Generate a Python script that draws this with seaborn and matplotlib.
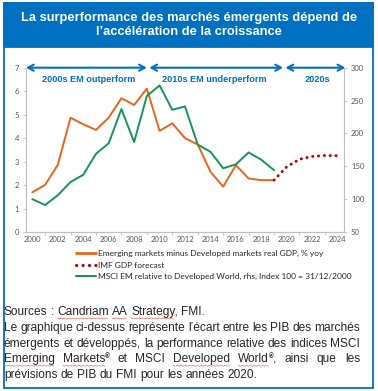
import matplotlib
matplotlib.use('Agg')
import matplotlib.pyplot as plt
import seaborn as sns
from matplotlib.patches import Rectangle
from matplotlib.lines import Line2D

# données
years = list(range(2000, 2020))
gdp_diff = [1.69, 2.01, 2.86, 4.87, 4.59, 4.35, 4.87, 5.70, 5.41, 6.11,
            4.31, 4.63, 4.00, 3.73, 2.57, 1.93, 2.85, 2.28, 2.21, 2.21]
msci_rel = [100, 91, 106, 126, 137, 169, 185, 237, 187, 257,
            273, 236, 241, 183, 172, 147, 153, 171, 160, 144]
fc_years = [2019, 2020, 2021, 2022, 2023, 2024]
fc_values = [2.21, 2.78, 3.10, 3.22, 3.26, 3.25]

periods = ['2000s EM outperform', '2010s EM underperform', '2020s']
period_spans = [(1999.5, 2009.0), (2009.2, 2019.7), (2019.9, 2024.6)]
period_label_x = [2004.4, 2014.3, 2022.4]

legend_labels = ['Emerging markets minus Developed markets real GDP, % yoy',
                 'IMF GDP forecast',
                 'MSCI EM relative to Developed World, rhs, Index 100 = 31/12/2000']

title = "La surperformance des marchés émergents dépend de\nl\u2019accélération de la croissance"
note_lines = [
    "Sources : Candriam AA Strategy, FMI.",
    "Le graphique ci-dessus représente l\u2019écart entre les PIB des marchés",
    "émergents et développés, la performance relative des indices MSCI",
    "Emerging Markets\u00ae et MSCI Developed World\u00ae, ainsi que les",
    "prévisions de PIB du FMI pour les années 2020.",
]
justified = [False, True, True, True, False]
# mots soulignés par le correcteur (ligne, mot)
spell_marks = {(0, 'Candriam'), (0, 'AA'), (0, 'Strategy,'),
               (3, 'Emerging'), (3, 'Markets\u00ae'), (3, 'Developed'), (3, 'World\u00ae,')}

BLUE = '#0070C0'
ORANGE = '#E8651A'
GREEN = '#15955A'
RED = '#C00000'
GREY = '#595959'

sns.set_style('white')
plt.rcParams['font.family'] = ['Lato', 'DejaVu Sans']

W, H = 378, 391
fig = plt.figure(figsize=(W / 100, H / 100), dpi=100)

# cadre et bandeau titre
fig.patches.append(Rectangle((4 / W, 1 - 388 / H), 369 / W, 385 / H, transform=fig.transFigure,
                             fill=False, edgecolor=BLUE, lw=1.3))
fig.patches.append(Rectangle((4 / W, 1 - 47 / H), 369 / W, 44 / H, transform=fig.transFigure,
                             facecolor=BLUE, edgecolor=BLUE, lw=1.3))
fig.text(189 / W, 1 - 25 / H, title, ha='center', va='center', color='white',
         fontsize=9.3, fontweight='bold', family='Liberation Sans', linespacing=1.25)

ax = fig.add_axes([26 / W, 1 - 232 / H, 318 / W, 164.3 / H])
ax2 = ax.twinx()

sns.lineplot(x=years, y=gdp_diff, ax=ax, color=ORANGE, lw=1.4)
sns.lineplot(x=fc_years, y=fc_values, ax=ax, color=RED, lw=2.1,
             linestyle=(0, (0.1, 1.9)), dash_capstyle='round')
sns.lineplot(x=years, y=msci_rel, ax=ax2, color=GREEN, lw=1.4)

ax.set_xlim(1999.5, 2024.5)
ax.set_ylim(0, 7)
ax2.set_ylim(50, 300)
ax.set_xticks(range(2000, 2025, 2))
ax.set_xticks(range(2001, 2025, 2), minor=True)
ax.set_yticks(range(0, 8))
ax2.set_yticks(range(50, 301, 50))

for a in (ax, ax2):
    a.spines['top'].set_visible(False)
    for s in ('left', 'right', 'bottom'):
        a.spines[s].set_color('#BFBFBF')
        a.spines[s].set_linewidth(0.8)
    a.tick_params(labelsize=5.5, colors=GREY, length=2, width=0.6, pad=3)
ax.tick_params(axis='x', which='both', length=2, color='#BFBFBF', bottom=True)
ax.tick_params(axis='x', which='major', length=0)
ax.tick_params(axis='y', left=True, color='#BFBFBF')
ax2.tick_params(axis='y', right=True, color='#BFBFBF')
ax.spines['right'].set_visible(False)
ax2.spines['left'].set_visible(False)

# flèches des décennies
for (x0, x1), lab, lx in zip(period_spans, periods, period_label_x):
    ax.annotate('', xy=(x1, 7), xytext=(x0, 7), annotation_clip=False,
                arrowprops=dict(arrowstyle='<->,head_length=0.4,head_width=0.22',
                                color=BLUE, lw=1.5, shrinkA=0, shrinkB=0))
    ax.text(lx, 6.5, lab, ha='center', va='center', color=BLUE, fontsize=6.6,
            fontweight='bold', family='Liberation Sans')

handles = [Line2D([], [], color=ORANGE, lw=2),
           Line2D([], [], color=RED, lw=2.2, linestyle=(0, (0.1, 2.0)), dash_capstyle='round'),
           Line2D([], [], color=GREEN, lw=1.5)]
fig.legend(handles, legend_labels, loc='upper left', bbox_to_anchor=(72 / W, 1 - 246 / H),
           frameon=False, fontsize=6, handlelength=2.4, handletextpad=0.2,
           labelspacing=0.55, borderpad=0, labelcolor='#262626')

# texte sous le graphique (justifié)
fig.canvas.draw()
renderer = fig.canvas.get_renderer()
x_left, x_right = 4, 360
fs = 8.6
FONT = 'Liberation Sans'


def word_width(w):
    t = fig.text(0, 0, w, fontsize=fs, family=FONT)
    wd = t.get_window_extent(renderer).width
    t.remove()
    return wd


def draw_word(x, ypix, w):
    # ® en exposant, plus petit
    if '\u00ae' in w:
        base, rest = w.split('\u00ae')
        fig.text(x / W, 1 - ypix / H, base, fontsize=fs, family=FONT, va='center')
        bw = word_width(base)
        fig.text((x + bw) / W, 1 - (ypix - 3) / H, '\u00ae', fontsize=fs * 0.55,
                 family=FONT, va='center', fontweight='bold')
        if rest:
            fig.text((x + bw + 4) / W, 1 - ypix / H, rest, fontsize=fs, family=FONT, va='center')
        return
    fig.text(x / W, 1 - ypix / H, w, fontsize=fs, family=FONT, va='center')


def squiggle(x0, x1, ypix):
    xs, ys = [], []
    x, k = x0, 0
    while x <= x1:
        xs.append(x / W)
        ys.append(1 - (ypix + (0.8 if k % 2 else 0)) / H)
        x += 2
        k += 1
    fig.lines.append(Line2D(xs, ys, transform=fig.transFigure, color='#F04040',
                            lw=0.5, alpha=0.8))


space = word_width('a b') - word_width('ab')
for i, (line, just) in enumerate(zip(note_lines, justified)):
    ypix = 312 + i * 15.8
    words = line.split(' ')
    widths = []
    for w in words:
        wd = word_width(w.replace('\u00ae', '')) + (4 if '\u00ae' in w else 0)
        widths.append(wd)
    gap = (x_right - x_left - sum(widths)) / (len(words) - 1) if just else space
    x = x_left
    for w, wd in zip(words, widths):
        draw_word(x, ypix, w)
        if (i, w) in spell_marks:
            end = x + wd - (word_width(',') if w.endswith(',') else 0)
            if '\u00ae' in w:
                end -= 4
            squiggle(x, end, ypix + 6)
        x += wd + gap

fig.savefig('out.png', dpi=100)
